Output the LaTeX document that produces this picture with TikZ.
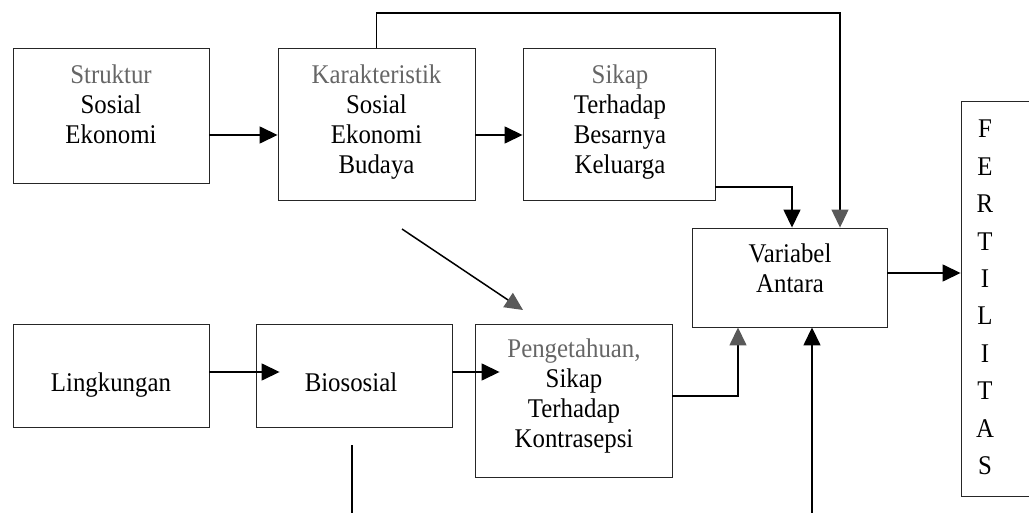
\documentclass[tikz,border=0pt]{standalone}
\usepackage{fontspec}
\setmainfont[FakeStretch=0.92]{Liberation Serif}
\usetikzlibrary{arrows.meta,calc}
\newcommand\mylines[1]{\begin{tabular}[t]{@{}c@{}}#1\end{tabular}}
\newcommand\firstln[1]{\textcolor{black!60}{#1}}
\begin{document}
\begin{tikzpicture}[x=1pt,y=-1pt,
  box/.style={draw=black!85, line width=0.9pt, inner sep=0pt, rectangle},
  txt/.style={anchor=base, inner sep=0pt, font=\fontsize{27}{30}\selectfont},
  arr/.style={line width=1.5pt, -{Triangle[length=18pt,width=17pt]}},
  arrgray/.style={line width=1.5pt, -{Triangle[length=18pt,width=17pt,color=black!65]}}
]
\useasboundingbox (0,0) rectangle (1029,513);

% boxes
\node[box, minimum width=196pt, minimum height=135pt] (struk) at (111,115.5) {};
\node[box, minimum width=197pt, minimum height=152pt] (kar) at (376.5,124) {};
\node[box, minimum width=192pt, minimum height=152pt] (sikap) at (619,124) {};
\node[box, minimum width=195pt, minimum height=99pt] (var) at (789.5,277.5) {};
\node[box, minimum width=90pt, minimum height=395pt] (fert) at (1006,298.5) {};
\node[box, minimum width=196pt, minimum height=103pt] (ling) at (111,375.5) {};
\node[box, minimum width=196pt, minimum height=103pt] (bio) at (354,375.5) {};
\node[box, minimum width=197pt, minimum height=153pt] (pen) at (573.5,400.5) {};

% texts
\node[txt] (strukT) at (111,84) {\mylines{\firstln{Struktur}\\Sosial\\Ekonomi}};
\node[txt] (karT) at (376.5,84) {\mylines{\firstln{Karakteristik}\\Sosial\\Ekonomi\\Budaya}};
\node[txt] (sikapT) at (620,84) {\mylines{\firstln{Sikap}\\Terhadap\\Besarnya\\Keluarga}};
\node[txt] (varT) at (790,263) {\mylines{Variabel\\Antara}};
\node[txt] (lingT) at (111,391) {Lingkungan};
\node[txt] (bioT) at (351,391) {Biososial};
\node[txt] (penT) at (574,358) {\mylines{\firstln{Pengetahuan,}\\Sikap\\Terhadap\\Kontrasepsi}};
\node[txt, font=\fontsize{27}{37.4}\selectfont] (fertT) at (985,138) {\mylines{F\\E\\R\\T\\I\\L\\I\\T\\A\\S}};

% connectors
\draw[arr] (struk.east |- 0,135) -- (kar.west |- 0,135);
\draw[arr] (kar.east |- 0,135) -- (sikap.west |- 0,135);
\draw[arrgray, line width=1.2pt] (kar.north) |- (840,13) -- (var.north -| 840,0);
\draw[arr] (sikap.east |- 0,187) -| (var.north -| 792,0);
\draw[arr] (var.east |- 0,273) -- (fert.west |- 0,273);

\coordinate (d1) at (402,229);
\coordinate (d2) at (523,310);
\draw[arrgray] (d1) -- (d2);

\draw[arr, shorten >=-24pt] (ling.east |- 0,372) -- (bio.west |- 0,372);
\draw[arr, shorten >=-25pt] (bio.east |- 0,372) -- (pen.west |- 0,372);
\draw[arrgray] (pen.east |- 0,396) -| (var.south -| 738,0);

\coordinate (b1) at (812,513);
\draw[arr] (b1) -- (var.south -| b1);

\coordinate (c1) at (352,445);
\coordinate (c2) at (352,513);
\draw[line width=1.2pt] (c1) -- (c2);
\end{tikzpicture}
\end{document}
